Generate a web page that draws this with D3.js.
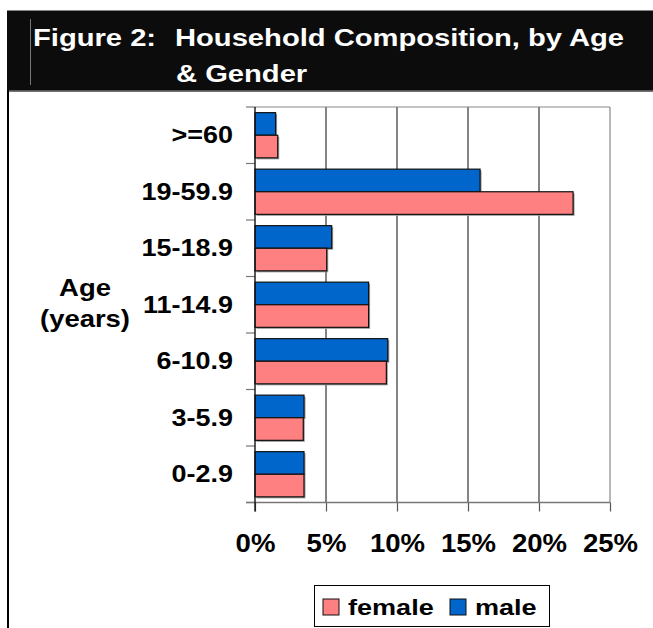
<!DOCTYPE html>
<html>
<head>
<meta charset="utf-8">
<script src="https://cdn.jsdelivr.net/npm/d3@7"></script>
<style>
  body { margin: 0; background: #fff; }
  svg text { font-family: "Liberation Sans", Arial, sans-serif; font-weight: bold; }
</style>
</head>
<body>
<div id="chart"></div>
<script>
// age groups, top to bottom as drawn
const ageGroups = ['>=60', '19-59.9', '15-18.9', '11-14.9', '6-10.9', '3-5.9', '0-2.9'];
const maleValues = [1.45, 15.85, 5.4, 8.0, 9.35, 3.45, 3.45];
const femaleValues = [1.6, 22.4, 5.05, 8.0, 9.25, 3.4, 3.45];
const xTicks = [0, 5, 10, 15, 20, 25];
const seriesNames = ['male', 'female'];
const colors = { male: '#0066CC', female: '#FF8080' };

const width = 653;
const height = 628;
const margin = { top: 107, bottom: 125.5, left: 255, right: 43 };

const data = ageGroups.map((g, i) => ({ group: g, male: maleValues[i], female: femaleValues[i] }));

const svg = d3.select('#chart')
    .append('svg')
    .attr('width', width)
    .attr('height', height);

// text with a little horizontal stretch, like the original artwork
let addText = (parent, x, y, str, size, sx, anchor, fill) => parent.append('text')
    .attr('transform', `translate(${x},${y}) scale(${sx},1)`)
    .attr('text-anchor', anchor || 'start')
    .attr('font-size', size)
    .attr('fill', fill || '#000')
    .text(str);

// title band
svg.append('rect')
    .attr('x', 7).attr('y', 10.5)
    .attr('width', width - 7).attr('height', 80)
    .attr('fill', '#0c0c0c');
svg.append('line')
    .attr('x1', 30.5).attr('x2', 30.5).attr('y1', 19).attr('y2', 85)
    .attr('stroke', '#777').attr('stroke-width', 1);
addText(svg, 33, 45.5, 'Figure 2:', 24.3, 1.2, 'start', '#fff');
addText(svg, 175, 45.5, 'Household Composition, by Age', 24.3, 1.2, 'start', '#fff');
addText(svg, 176, 82, '& Gender', 24.3, 1.2, 'start', '#fff');

// panel frame (bottom of band + left rule)
svg.append('line')
    .attr('x1', 7).attr('x2', width).attr('y1', 91).attr('y2', 91)
    .attr('stroke', '#444').attr('stroke-width', 1.5);
svg.append('line')
    .attr('x1', 8).attr('x2', 8).attr('y1', 90).attr('y2', height)
    .attr('stroke', '#000').attr('stroke-width', 2);

const x = d3.scaleLinear()
    .domain([0, 25])
    .range([margin.left, width - margin.right]);

const y = d3.scaleBand()
    .domain(ageGroups)
    .range([margin.top, height - margin.bottom]);

const ySub = d3.scaleBand()
    .domain(seriesNames)
    .range([0, y.bandwidth()])
    .paddingOuter(0.25);

// gridlines
svg.append('g')
    .selectAll('line')
    .data(xTicks.slice(1))
    .join('line')
    .attr('x1', d => x(d)).attr('x2', d => x(d))
    .attr('y1', y.range()[0]).attr('y2', y.range()[1])
    .attr('stroke', d => d === 25 ? '#888' : '#333')
    .attr('stroke-width', 1.2);
svg.append('line')
    .attr('x1', x(0)).attr('x2', x(25))
    .attr('y1', y.range()[0]).attr('y2', y.range()[0])
    .attr('stroke', '#888').attr('stroke-width', 1.2);

// bars
const groups = svg.append('g')
    .selectAll('g')
    .data(data)
    .join('g')
    .attr('transform', d => `translate(0,${y(d.group)})`);

groups.selectAll('rect.shadow')
    .data(d => seriesNames.map(s => ({ key: s, value: d[s] })))
    .join('rect')
    .attr('class', 'shadow')
    .attr('x', x(0) + 1.5)
    .attr('y', d => ySub(d.key) + 1.5)
    .attr('width', d => x(d.value) - x(0))
    .attr('height', ySub.bandwidth())
    .attr('fill', '#999');

groups.selectAll('rect.bar')
    .data(d => seriesNames.map(s => ({ key: s, value: d[s] })))
    .join('rect')
    .attr('class', 'bar')
    .attr('x', x(0))
    .attr('y', d => ySub(d.key))
    .attr('width', d => x(d.value) - x(0))
    .attr('height', ySub.bandwidth())
    .attr('fill', d => colors[d.key])
    .attr('stroke', '#111')
    .attr('stroke-width', 1.2);

// x axis
const xAxis = svg.append('g')
    .attr('transform', `translate(0,${height - margin.bottom})`)
    .call(d3.axisBottom(x).tickValues(xTicks).tickFormat(d => d + '%').tickSize(9).tickSizeOuter(0).tickPadding(22));
xAxis.select('.domain').remove();
xAxis.selectAll('line').attr('stroke', '#555').attr('stroke-width', 1.2);
xAxis.selectAll('text')
    .attr('font-size', 26.5).attr('fill', '#000')
    .attr('transform', 'scale(1.04,1)');
svg.append('line')
    .attr('x1', x(0) - 9).attr('x2', x(25))
    .attr('y1', y.range()[1]).attr('y2', y.range()[1])
    .attr('stroke', '#777').attr('stroke-width', 1.4);

// y axis: band boundary ticks + centred labels
const bounds = ageGroups.map(g => y(g)).concat([y.range()[1]]);
svg.append('g')
    .selectAll('line')
    .data(bounds)
    .join('line')
    .attr('x1', x(0) - 9).attr('x2', x(0))
    .attr('y1', d => d).attr('y2', d => d)
    .attr('stroke', '#777').attr('stroke-width', 1.2);
svg.append('line')
    .attr('x1', x(0)).attr('x2', x(0))
    .attr('y1', y.range()[0]).attr('y2', y.range()[1] + 9)
    .attr('stroke', '#111').attr('stroke-width', 1.4);

const yAxis = svg.append('g')
    .attr('transform', `translate(${x(0)},0)`)
    .call(d3.axisLeft(y).tickSize(0).tickPadding(22));
yAxis.select('.domain').remove();
yAxis.selectAll('text')
    .attr('x', 0)
    .attr('transform', 'translate(-22,0) scale(1.1,1)')
    .attr('font-size', 24.5).attr('fill', '#000');

// axis title
addText(svg, 85, 296, 'Age', 24.3, 1.13, 'middle');
addText(svg, 85, 327, '(years)', 24.3, 1.13, 'middle');

// legend
const legend = svg.append('g');
legend.append('rect')
    .attr('x', 314.5).attr('y', 585.5)
    .attr('width', 235).attr('height', 41)
    .attr('fill', '#fff').attr('stroke', '#000').attr('stroke-width', 1);
const legendItems = [
    { key: 'female', x: 323, tx: 348 },
    { key: 'male', x: 450, tx: 475 }
];
legendItems.forEach(item => {
    legend.append('rect')
        .attr('x', item.x).attr('y', 599)
        .attr('width', 16).attr('height', 16)
        .attr('fill', colors[item.key])
        .attr('stroke', '#111').attr('stroke-width', 1);
    addText(legend, item.tx, 614.5, item.key, 22, 1.23, 'start');
});
</script>
</body>
</html>
